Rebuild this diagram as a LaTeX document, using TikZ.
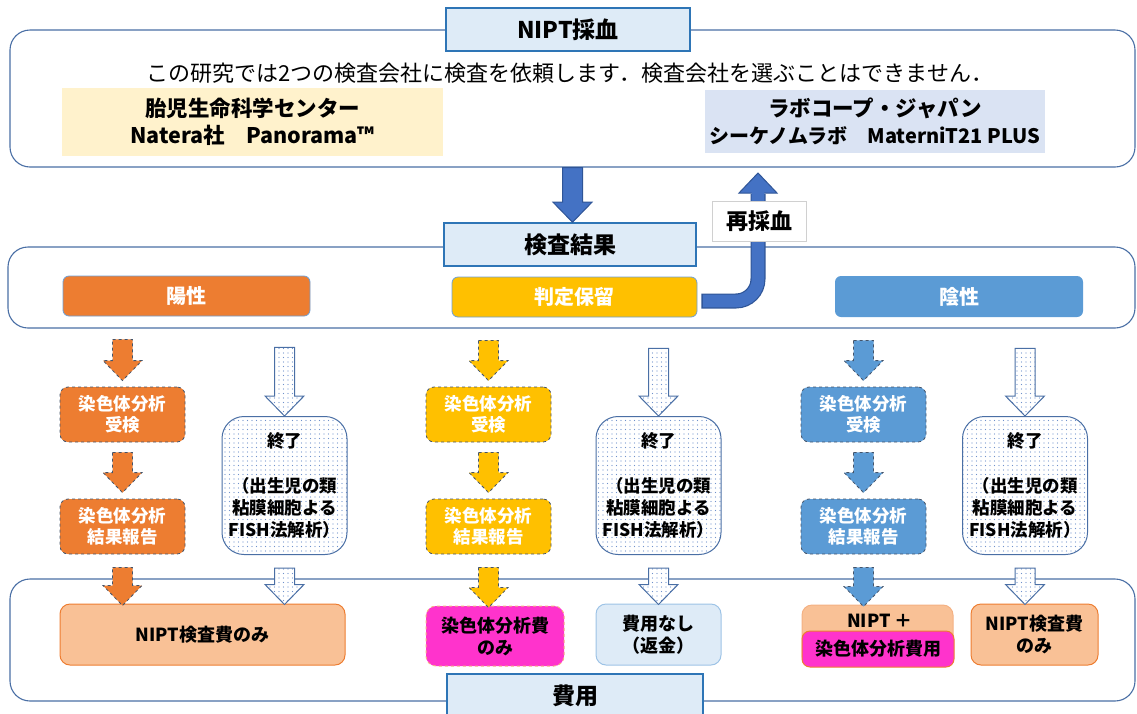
\documentclass[tikz,border=0pt]{standalone}
\usepackage{fontspec}
\setmainfont{Noto Sans CJK JP}
\usetikzlibrary{calc}
\usetikzlibrary{patterns.meta}

\definecolor{frameblue}{HTML}{4A6FA5}
\definecolor{headline}{HTML}{2E75B6}
\definecolor{headfill}{HTML}{DEEBF7}
\definecolor{accorange}{HTML}{ED7D31}
\definecolor{accgold}{HTML}{FFC000}
\definecolor{accsky}{HTML}{5B9BD5}
\definecolor{arrowblue}{HTML}{4472C4}
\definecolor{arrowedge}{HTML}{2F5597}
\definecolor{lightorange}{HTML}{F9C196}
\definecolor{softorange}{HTML}{F4B183}
\definecolor{pinkfee}{HTML}{FF33CC}
\definecolor{firmyellow}{HTML}{FFF2CC}
\definecolor{firmblue}{HTML}{DAE3F3}
\definecolor{dotblue}{HTML}{6F90CC}
\definecolor{slate}{HTML}{44546A}
\definecolor{resline}{HTML}{6D9FD6}
\definecolor{paleline}{HTML}{9DC3E6}
\definecolor{labelgray}{HTML}{D0D0D0}

\newcommand{\fsz}[2]{\fontsize{#1}{#2}\selectfont}
% block arrow: style, start, shift down, tip, shift down
\newcommand{\blockarrow}[5]{%
  \path[#1] let \p1=(#2), \p2=(#4) in
    ({\x1-10pt},{\y1-(#3)*1pt}) -- ({\x1+10pt},{\y1-(#3)*1pt}) -- ({\x1+10pt},{\y2-(#5)*1pt+20pt})
    -- ({\x1+19.5pt},{\y2-(#5)*1pt+20pt}) -- (\x1,{\y2-(#5)*1pt}) -- ({\x1-19.5pt},{\y2-(#5)*1pt+20pt})
    -- ({\x1-10pt},{\y2-(#5)*1pt+20pt}) -- cycle;}

\tikzset{
  bigframe/.style={draw=frameblue, line width=1.1pt, rounded corners=20pt, inner sep=0pt},
  headbox/.style={draw=headline, line width=1.6pt, fill=headfill, inner sep=0pt,
    minimum height=43pt, font=\fsz{23}{26}\bfseries},
  firmbox/.style={fill=#1, inner sep=0pt, align=center, font=\fsz{21.5}{27}\bfseries},
  resbox/.style={fill=#1, draw=resline, line width=0.8pt, rounded corners=6pt, inner sep=0pt,
    minimum width=247pt, minimum height=40pt, text=white, font=\fsz{20}{24}\bfseries},
  stepbox/.style={fill=#1, draw=slate, dashed, line width=0.8pt, rounded corners=8pt,
    inner sep=0pt, minimum width=125pt, minimum height=55pt, align=center,
    text=white, font=\fsz{17.5}{21}\bfseries},
  dotfill/.style={preaction={fill=white}, pattern={Dots[distance=4.5pt, radius=0.65pt]},
    pattern color=dotblue},
  endbox/.style={dotfill, draw=frameblue, line width=1pt, rounded corners=22pt,
    minimum width=125pt, minimum height=138pt, inner sep=0pt, align=center,
    font=\fsz{17.5}{22}\bfseries},
  costbox/.style={fill=#1, draw=accorange, line width=1pt, rounded corners=10pt,
    inner sep=0pt, minimum height=61pt, align=center, font=\fsz{18}{22}\bfseries},
  colarrow/.style={fill=#1, draw=slate, dashed, line width=0.8pt},
  dotarrow/.style={dotfill, draw=frameblue, line width=1pt},
  toparrow/.style={fill=arrowblue, draw=arrowedge, line width=1pt}
}

\begin{document}
\begin{tikzpicture}[x=1pt, y=-1pt]
    \useasboundingbox (0,0) rectangle (1137,713);

    % frames
    \node[bigframe, minimum width=1125pt, minimum height=137pt] (blood) at (572.5,98.5) {};
    \node[bigframe, minimum width=1127pt, minimum height=81pt] (judge) at (571.5,287.5) {};
    \node[bigframe, minimum width=1125pt, minimum height=122pt] (fee) at (572.5,640) {};

    \node[headbox, minimum width=244pt] (bloodhead) at (568,29.5) {NIPT採血};
    \node[headbox, minimum width=252pt] (result) at (570,244.5) {検査結果};
    \node[headbox, minimum width=256pt] (feehead) at (575,695.5) {費用};

    % companies
    \node[font=\fsz{22}{26}, inner sep=0pt] (notice) at (570,73)
      {この研究では2つの検査会社に検査を依頼します．検査会社を選ぶことはできません．};
    \node[firmbox=firmyellow, minimum width=381pt, minimum height=68pt] (natera) at (252.5,122)
      {胎児生命科学センター\\Natera社　Panorama™};
    \node[firmbox=firmblue, minimum width=340pt, minimum height=63pt] (labcorp) at (875,121.5)
      {ラボコープ・ジャパン\\{\fsz{20}{26}\bfseries シーケノムラボ　MaterniT21 PLUS}};

    % results
    \node[resbox=accorange] (pos) at (186.5,296) {陽性};
    \node[resbox=accgold, minimum width=245pt] (hold) at (574.5,297) {判定保留};
    \node[resbox=accsky, draw=none, minimum width=248pt, minimum height=41pt] (neg) at (959,296.5) {陰性};

    % costs
    \node[costbox=lightorange, minimum width=285pt] (costA) at (202.5,634.5) {NIPT検査費のみ};
    \node[costbox=pinkfee, draw=softorange, dashed, minimum width=138pt, minimum height=60pt]
      (costB) at (495,636) {染色体分析費\\のみ};
    \node[costbox=headfill, draw=paleline, minimum width=125pt] (costC) at (658.5,634.5) {費用なし\\（返金）};
    \node[costbox=lightorange, draw=softorange, minimum width=151pt] (costD) at (877.5,635.5) {};
    \node[font=\fsz{18}{22}\bfseries, inner sep=0pt] (costDtop) at (880,621) {NIPT ＋};
    \node[costbox=pinkfee, minimum width=152pt, minimum height=36pt, rounded corners=8pt]
      (costDlow) at (878,649) {染色体分析費用};
    \node[costbox=lightorange, minimum width=127pt] (costE) at (1034.5,634.5) {NIPT検査費\\のみ};

    % the three columns
    \foreach \kind/\xa/\xe/\fc/\ca/\ce in {pos/122.5/284.5/accorange/costA/costA,
        hold/488.5/658.5/accgold/costB/costC, neg/863.5/1025/accsky/costD/costE}
    {
      \node[stepbox=\fc] (\kind A) at (\xa,414.5) {染色体分析\\受検};
      \node[stepbox=\fc] (\kind B) at (\xa,526.5) {染色体分析\\結果報告};
      \node[endbox] (\kind E) at (\xe,485.5) {終了\\[23pt]（出生児の類\\粘膜細胞よる\\FISH法解析）};
      \blockarrow{colarrow=\fc}{\kind A.north |- \kind.south}{23}{\kind A.north}{-6}
      \blockarrow{colarrow=\fc}{\kind A.south}{10}{\kind B.north}{-6}
      \blockarrow{colarrow=\fc}{\kind B.south}{13}{\ca.north}{2}
      \blockarrow{dotarrow}{\kind E.north |- \kind.south}{31}{\kind E.north}{0}
      \blockarrow{dotarrow}{\kind E.south}{13}{\ce.north}{1}
    }

    % blood to result
    \blockarrow{toparrow}{blood.south}{0}{result.north}{0}

    % resampling
    \coordinate (redo) at (758,173);
    \draw[draw=arrowedge, line width=15pt, rounded corners=22pt] ($(hold.east)+(4,4)$) -| ($(redo)+(0,21)$);
    \fill[arrowblue, draw=arrowedge, line width=1pt] ($(redo)+(-19,20)$) -- ($(redo)+(19,20)$) -- (redo) -- cycle;
    \draw[draw=arrowblue, line width=12.6pt, rounded corners=22pt] ($(hold.east)+(5.5,4)$) -| ($(redo)+(0,17)$);
    \node[draw=labelgray, fill=white, line width=0.8pt, minimum width=94pt, minimum height=40pt,
      inner sep=0pt, font=\fsz{22}{26}\bfseries] (redolabel) at (759,221) {再採血};
\end{tikzpicture}
\end{document}
